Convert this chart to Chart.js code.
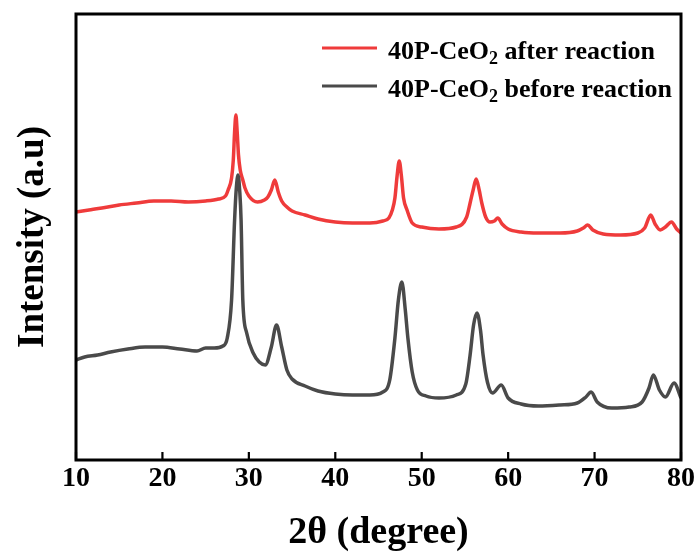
<!DOCTYPE html>
<html>
<head>
<meta charset="utf-8">
<script src="https://cdn.jsdelivr.net/npm/chart.js@4.4.1/dist/chart.umd.min.js"></script>
<style>
  html, body { margin: 0; padding: 0; background: #fff; }
  #wrap { width: 700px; height: 559px; }
</style>
</head>
<body>
<div id="wrap"><canvas id="xrd"></canvas></div>
<script>
// 2θ positions and intensities (a.u.)
const afterTheta = [10.0, 11.5, 13.0, 15.0, 17.0, 19.0, 21.0, 23.0, 25.0, 26.5, 27.3, 27.6, 28.0, 28.2, 28.35, 28.5, 28.65, 28.8, 29.0, 29.3, 29.55, 30.0, 31.0, 31.8, 32.2, 32.6, 33.0, 33.4, 33.8, 34.4, 35.0, 36.5, 38.0, 40.0, 42.0, 44.0, 45.5, 46.2, 46.6, 46.9, 47.15, 47.4, 47.65, 47.9, 48.3, 48.9, 50.0, 52.0, 54.0, 55.2, 55.6, 55.95, 56.3, 56.65, 56.95, 57.4, 57.9, 58.4, 58.8, 59.3, 60.0, 61.5, 63.5, 66.0, 68.0, 68.7, 69.2, 69.8, 71.0, 73.0, 75.0, 75.8, 76.5, 77.0, 77.6, 78.2, 78.9, 79.5, 80.0];
const afterInt = [248, 250, 252, 255, 257, 259, 259, 258, 259, 261, 264, 270, 282, 300, 328, 345, 328, 305, 290, 280, 272, 264, 258, 260, 263, 270, 280, 268, 259, 253, 249, 245, 241, 238, 237, 237, 239, 242, 250, 262, 284, 299, 284, 262, 250, 237, 233, 231, 233, 243, 257, 270, 281, 270, 257, 243, 238, 239, 242, 236, 231, 228, 227, 227, 229, 232, 235, 230, 226, 225, 227, 232, 245, 236, 230, 233, 238, 231, 227];

const beforeTheta = [10.0, 11.0, 12.5, 14.0, 16.0, 18.0, 20.0, 22.0, 24.0, 25.0, 26.0, 27.0, 27.5, 28.0, 28.35, 28.55, 28.75, 28.95, 29.1, 29.3, 29.75, 30.5, 31.2, 31.9, 32.6, 33.2, 33.8, 34.4, 35.0, 36.5, 38.0, 40.0, 42.0, 44.0, 45.5, 46.3, 46.9, 47.3, 47.7, 48.1, 48.4, 48.9, 49.5, 50.5, 52.0, 54.0, 55.1, 55.6, 56.0, 56.4, 56.8, 57.1, 57.6, 58.2, 59.2, 60.0, 61.5, 63.5, 66.0, 68.0, 69.0, 69.6, 70.3, 72.0, 74.0, 75.5, 76.3, 76.8, 77.5, 78.2, 79.2, 80.0];
const beforeInt = [100, 103, 105, 108, 111, 113, 113, 111, 109, 112, 112, 114, 122, 160, 240, 272, 285, 268, 240, 160, 127, 107, 98, 95, 113, 135, 113, 90, 81, 74, 69, 66, 65, 65, 68, 80, 122, 160, 178, 150, 122, 88, 70, 64, 62, 65, 76, 105, 135, 147, 130, 105, 78, 67, 75, 62, 56, 54, 55, 57, 63, 68, 58, 52, 53, 58, 72, 85, 70, 63, 77, 62];

const xTicks = [10, 20, 30, 40, 50, 60, 70, 80];

const seriesNames = ['40P-CeO', '40P-CeO'];
const seriesTails = [' after reaction', ' before reaction'];
const seriesColors = ['#ef3b3b', '#4a4a4a'];

const serif = '"Liberation Serif", "Times New Roman", serif';

function toPoints(xs, ys) {
  return xs.map((x, i) => ({ x: x, y: ys[i] }));
}

// frame + inward ticks, like the origin-style plot
const framePlugin = {
  id: 'frame',
  afterDatasetsDraw(chart) {
    const { ctx, chartArea: a, scales } = chart;
    ctx.save();
    ctx.strokeStyle = '#000';
    ctx.lineWidth = 3;
    ctx.strokeRect(a.left, a.top, a.right - a.left, a.bottom - a.top);
    ctx.lineWidth = 2.2;
    ctx.beginPath();
    xTicks.forEach(t => {
      const px = scales.x.getPixelForValue(t);
      ctx.moveTo(px, a.bottom);
      ctx.lineTo(px, a.bottom - 8);
    });
    ctx.stroke();
    ctx.restore();
  }
};

// legend drawn by hand so the subscript 2 can be set properly
const legendPlugin = {
  id: 'subLegend',
  afterDraw(chart) {
    const ctx = chart.ctx;
    const rows = [48, 86];
    ctx.save();
    ctx.textBaseline = 'alphabetic';
    rows.forEach((y, i) => {
      ctx.strokeStyle = seriesColors[i];
      ctx.lineWidth = 3;
      ctx.beginPath();
      ctx.moveTo(322, y);
      ctx.lineTo(377, y);
      ctx.stroke();

      let x = 388;
      const base = y + 11;
      ctx.fillStyle = '#000';
      ctx.font = 'bold 26px ' + serif;
      ctx.fillText(seriesNames[i], x, base);
      x += ctx.measureText(seriesNames[i]).width;
      ctx.font = 'bold 18px ' + serif;
      ctx.fillText('2', x, base + 5);
      x += ctx.measureText('2').width;
      ctx.font = 'bold 26px ' + serif;
      ctx.fillText(seriesTails[i], x, base);
    });
    ctx.restore();
  }
};

new Chart(document.getElementById('xrd'), {
  type: 'line',
  data: {
    datasets: [
      {
        label: '40P-CeO2 before reaction',
        data: toPoints(beforeTheta, beforeInt),
        borderColor: seriesColors[1],
        borderWidth: 3.5,
        pointRadius: 0,
        cubicInterpolationMode: 'monotone',
        order: 0
      },
      {
        label: '40P-CeO2 after reaction',
        data: toPoints(afterTheta, afterInt),
        borderColor: seriesColors[0],
        borderWidth: 3.5,
        pointRadius: 0,
        cubicInterpolationMode: 'monotone',
        order: 1
      }
    ]
  },
  options: {
    responsive: true,
    maintainAspectRatio: false,
    animation: false,
    layout: { padding: { top: 14, right: 19, bottom: 0, left: 0 } },
    plugins: { legend: { display: false }, tooltip: { enabled: false } },
    scales: {
      x: {
        type: 'linear',
        min: 10,
        max: 80,
        afterFit: s => { s.height = 99; },
        afterBuildTicks: s => { s.ticks = xTicks.map(v => ({ value: v })); },
        grid: { display: false, drawTicks: false },
        border: { display: false },
        ticks: {
          padding: 2,
          color: '#000',
          maxRotation: 0,
          font: { family: serif, size: 28, weight: 'bold' }
        },
        title: {
          display: true,
          text: '2θ (degree)',
          color: '#000',
          padding: { top: 0, bottom: 3 },
          font: { family: serif, size: 38, weight: 'bold' }
        }
      },
      y: {
        min: 0,
        max: 446,
        afterFit: s => { s.width = 76; },
        grid: { display: false, drawTicks: false },
        border: { display: false },
        ticks: { display: false },
        title: {
          display: true,
          text: 'Intensity (a.u)',
          color: '#000',
          padding: { top: 11, bottom: 0 },
          font: { family: serif, size: 37, weight: 'bold' }
        }
      }
    }
  },
  plugins: [framePlugin, legendPlugin]
});
</script>
</body>
</html>
